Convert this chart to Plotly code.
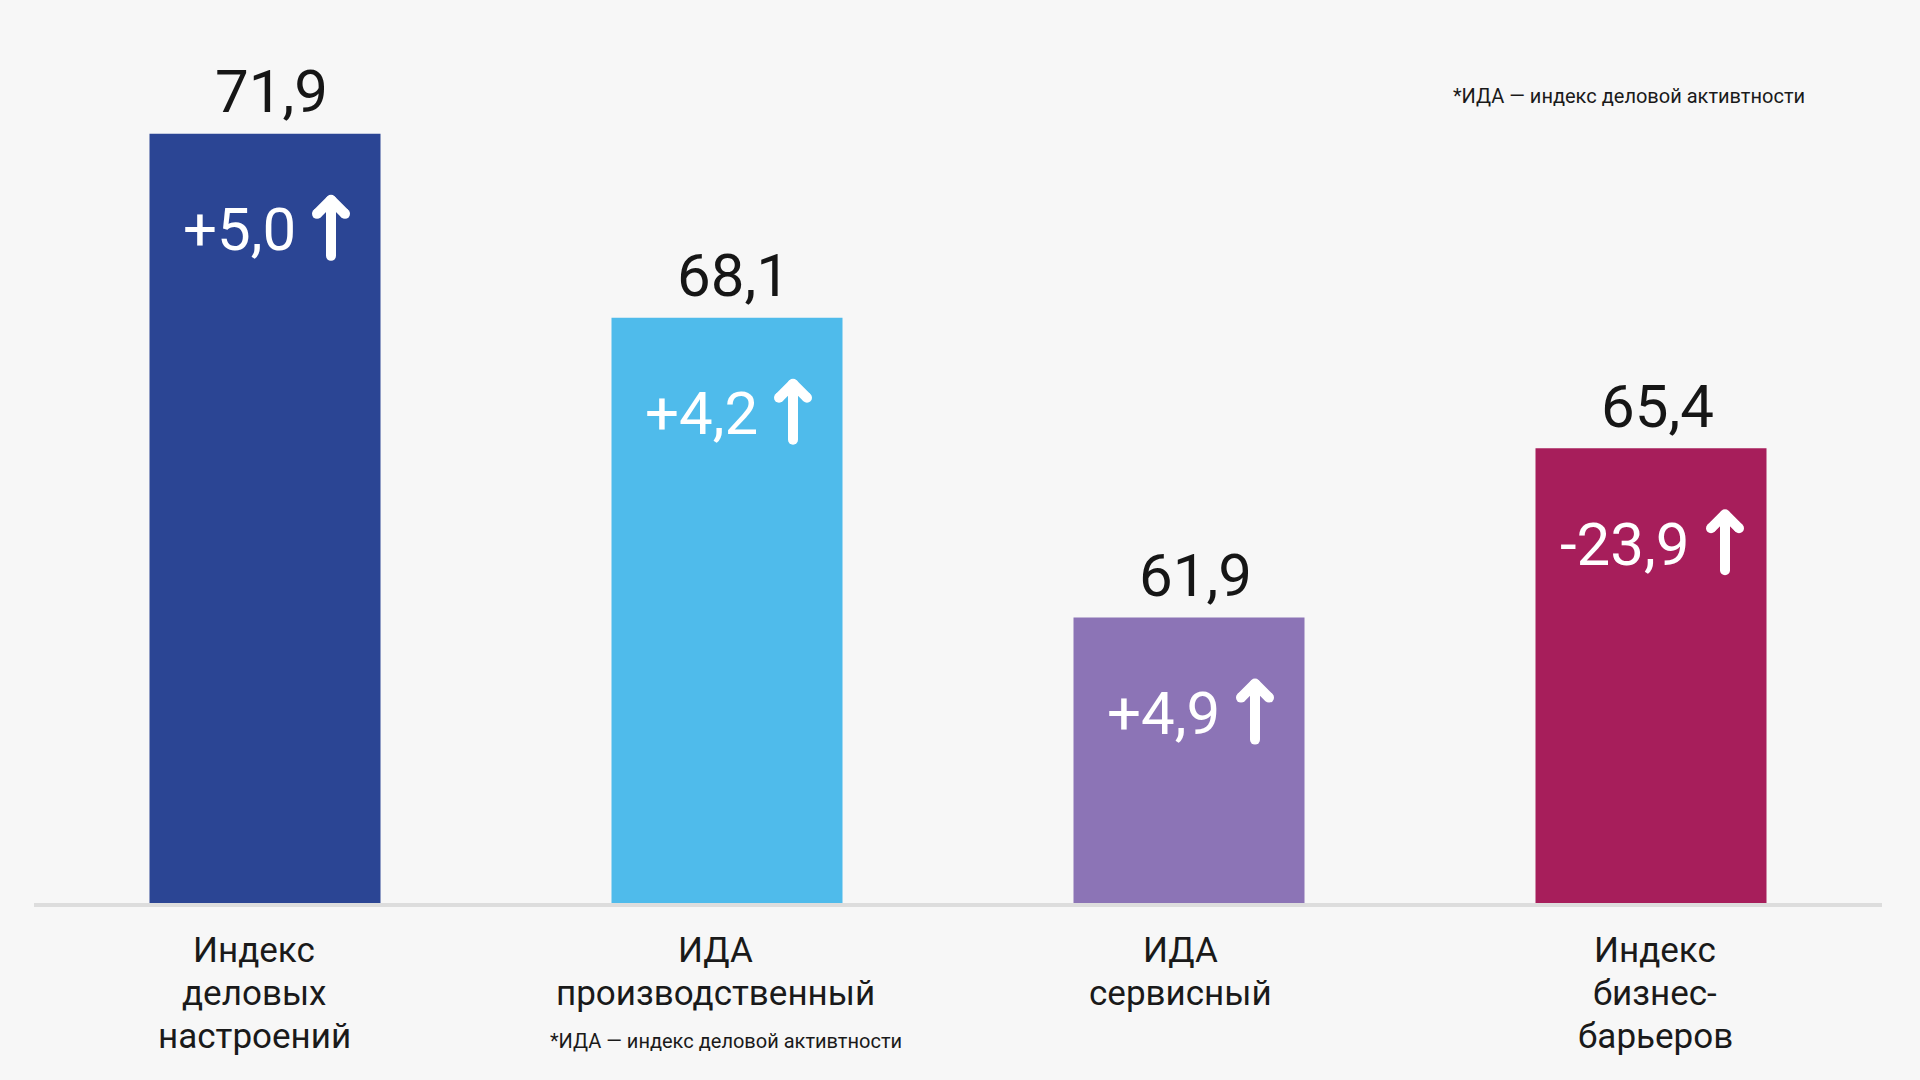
import plotly.graph_objects as go

categories = ["Индекс<br>деловых<br>настроений", "ИДА<br>производственный", "ИДА<br>сервисный", "Индекс<br>бизнес-<br>барьеров"]
values = [71.9, 68.1, 61.9, 65.4]
value_labels = ["71,9", "68,1", "61,9", "65,4"]
delta_labels = ["+5,0", "+4,2", "+4,9", "-23,9"]
colors = ["#2B4594", "#4FBBEB", "#8C74B6", "#A71E5B"]
footnote = "*ИДА — индекс деловой активтности"

FONT = "Roboto"
label_xshift = [-11, -12, -9, 4]

fig = go.Figure()
fig.add_trace(go.Bar(
    x=categories, y=values, marker=dict(color=colors, line=dict(width=0)),
    hoverinfo="skip",
))

W = "#ffffff"
for i, (cat, v, lab, d) in enumerate(zip(categories, values, value_labels, delta_labels)):
    fig.add_annotation(x=cat, y=v, text=lab, showarrow=False, yanchor="middle",
                       xanchor="center", xshift=6, yshift=42,
                       font=dict(family=FONT, size=60, color="#161616"))
    extra = (len(d) - 4) * 8
    fig.add_annotation(x=cat, y=v, text=d, showarrow=False, yanchor="middle",
                       xanchor="right", xshift=33 + extra, yshift=-96,
                       font=dict(family=FONT, size=60, color=W))
    ax = 66 + extra
    common = dict(xref="x", yref="y", xsizemode="pixel", ysizemode="pixel",
                  xanchor=cat, yanchor=v)
    # shaft and arms
    fig.add_shape(type="path",
                  path=f"M{ax},-122 L{ax},-66 M{ax-14},-80 L{ax},-66 M{ax},-66 L{ax+14},-80",
                  line=dict(color=W, width=10), **common)
    # round caps
    for cx, cy in [(ax, -122), (ax, -66), (ax - 14, -80), (ax + 14, -80)]:
        fig.add_shape(type="circle", x0=cx - 5, x1=cx + 5, y0=cy - 5, y1=cy + 5,
                      fillcolor=W, line=dict(width=0), **common)

    # category label, line by line
    for j, line in enumerate(cat.split("<br>")):
        fig.add_annotation(xref="x", yref="paper", x=cat, y=0, text=line, showarrow=False,
                           xanchor="center", yanchor="middle",
                           xshift=label_xshift[i], yshift=-(47 + 43 * j),
                           font=dict(family=FONT, size=35, color="#1a1a1a"))

fig.add_annotation(xref="paper", yref="paper", x=0.767, y=0.935, text=footnote,
                   showarrow=False, xanchor="left", yanchor="middle",
                   font=dict(family=FONT, size=20, color="#1a1a1a"))
fig.add_annotation(xref="paper", yref="paper", x=0.278, y=-0.160, text=footnote,
                   showarrow=False, xanchor="left", yanchor="middle",
                   font=dict(family=FONT, size=20, color="#1a1a1a"))

fig.update_layout(
    width=1920, height=1080,
    margin=dict(l=34, r=38, t=40, b=177),
    paper_bgcolor="#f7f7f7", plot_bgcolor="#f7f7f7",
    bargap=0.5, showlegend=False,
    xaxis=dict(showline=True, linewidth=4, linecolor="#dddddd", ticks="",
               showgrid=False, zeroline=False, showticklabels=False),
    yaxis=dict(range=[56, 73.84], visible=False, showgrid=False, zeroline=False),
)

fig.write_html("out.html")
